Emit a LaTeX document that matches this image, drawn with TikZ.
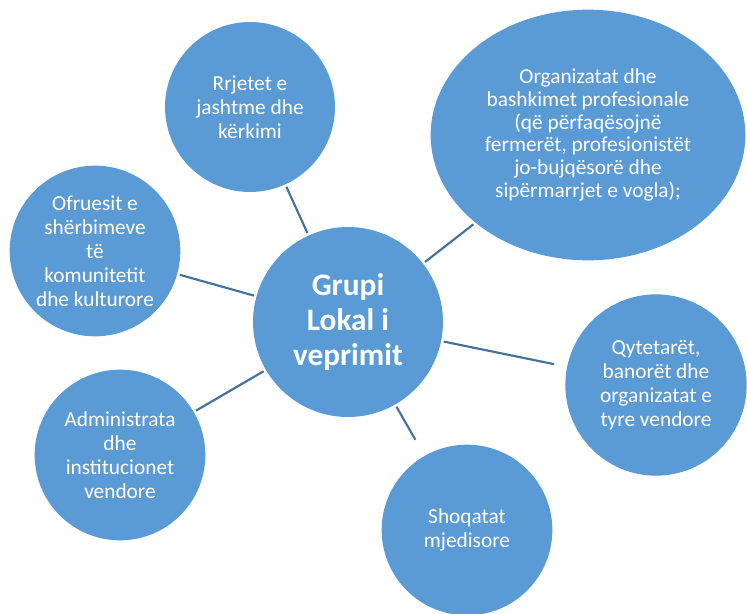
\documentclass[tikz,border=0pt]{standalone}
\usepackage{fontspec}
\setmainfont{Carlito}
\usepackage{tikz}
\usetikzlibrary{shapes,shapes.geometric}
\definecolor{bubbleblue}{HTML}{5B9BD5}
\definecolor{linkblue}{HTML}{41719C}
\tikzset{
	bubble/.style={circle, fill=bubbleblue, text=white, align=center, inner sep=0pt, outer sep=2pt, font=\fontsize{16}{18}\selectfont},
	link/.style={draw=linkblue, line width=1.6pt}
}

\begin{document}
\begin{tikzpicture}[x=0.75pt, y=-0.75pt]
			\useasboundingbox (0,0) rectangle (747,614);
			\node[bubble, minimum size=142.5pt, font=\fontsize{23.5}{26}\selectfont\bfseries] (grupi) at (348,322) {Grupi\\Lokal i\\veprimit};
			\node[bubble, minimum size=127.5pt] (rrjetet) at (250,107) {Rrjetet e\\jashtme dhe\\kërkimi};
			\node[bubble, ellipse, minimum width=236pt, minimum height=188pt, font=\fontsize{16}{17}\selectfont] (organizatat) at (588,135) {Organizatat dhe\\bashkimet profesionale\\(që përfaqësojnë\\fermerët, profesionistët\\jo-bujqësorë dhe\\sipërmarrjet e vogla);};
			\node[bubble, minimum size=128pt] (ofruesit) at (95,251) {Ofruesit e\\shërbimeve\\të\\komunitetit\\dhe kulturore};
			\node[bubble, minimum size=136pt] (qytetaret) at (656,385) {Qytetarët,\\banorët dhe\\organizatat e\\tyre vendore};
			\node[bubble, minimum size=128pt] (administrata) at (120,455) {Administrata\\dhe\\institucionet\\vendore};
			\node[bubble, minimum size=128pt] (shoqatat) at (467,530) {Shoqatat\\mjedisore};
			
			\draw[link] (rrjetet) -- (grupi);
			\draw[link] (ofruesit) -- (grupi);
			\draw[link] (organizatat) -- (grupi);
			\draw[link] (administrata) -- (grupi);
			\draw[link, shorten >=8pt] (grupi) -- (qytetaret);
			\draw[link, shorten >=12pt] (grupi) -- (shoqatat);
		\end{tikzpicture}
\end{document}
